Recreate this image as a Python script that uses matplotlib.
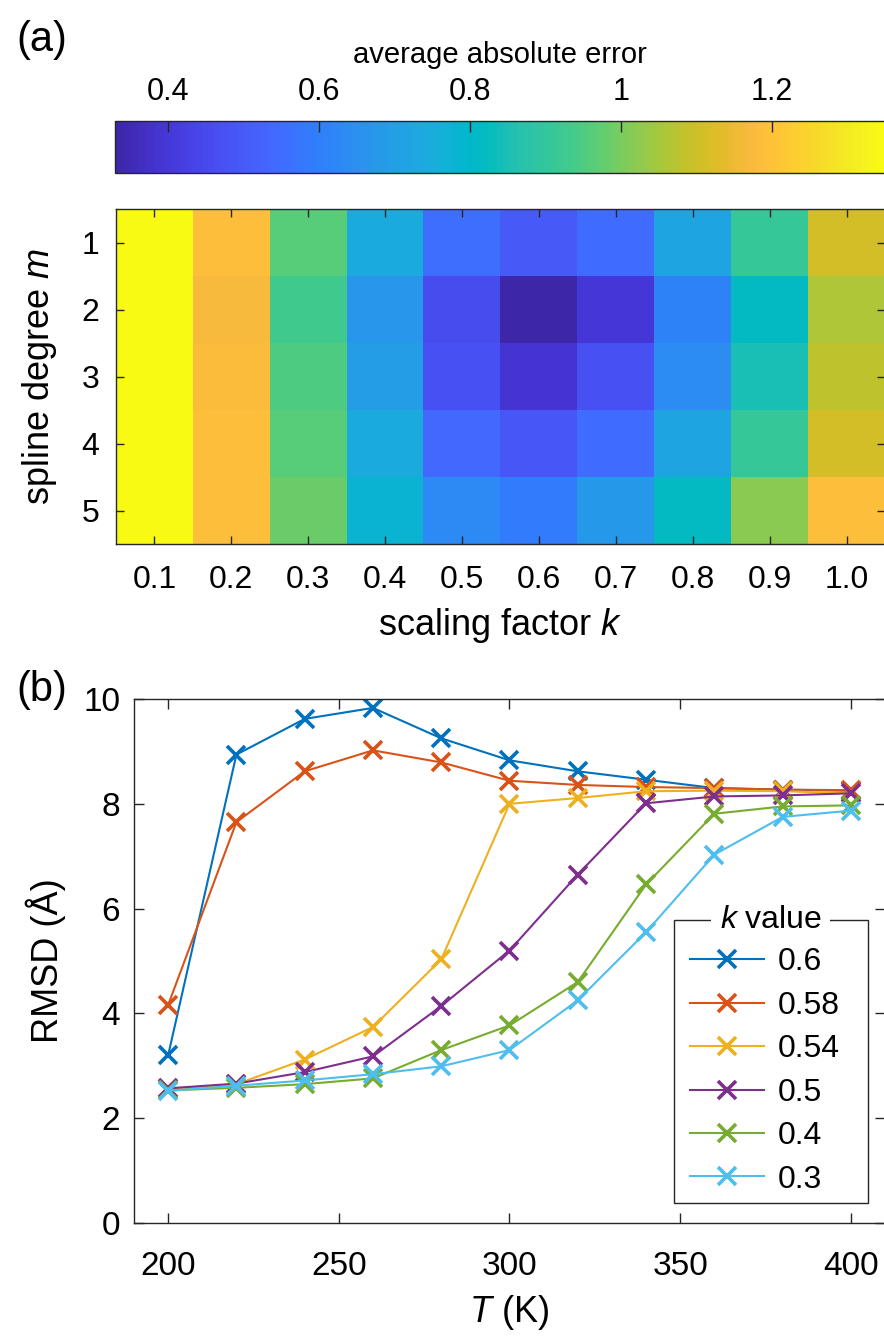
import numpy as np
import matplotlib
matplotlib.use('Agg')
import matplotlib.pyplot as plt
from matplotlib.colors import LinearSegmentedColormap
from matplotlib.patches import Rectangle

plt.rcParams['font.family'] = ['Liberation Sans', 'DejaVu Sans']
plt.rcParams['mathtext.fontset'] = 'custom'
plt.rcParams['mathtext.it'] = 'Liberation Sans:italic'
plt.rcParams['mathtext.rm'] = 'Liberation Sans'

# ---------------- data ----------------
k_labels = ['0.1', '0.2', '0.3', '0.4', '0.5', '0.6', '0.7', '0.8', '0.9', '1.0']
m_labels = ['1', '2', '3', '4', '5']
err_m1 = [1.35, 1.19, 0.96, 0.74, 0.555, 0.50, 0.55, 0.72, 0.91, 1.11]
err_m2 = [1.35, 1.17, 0.93, 0.67, 0.46, 0.33, 0.40, 0.61, 0.82, 1.06]
err_m3 = [1.35, 1.18, 0.95, 0.69, 0.47, 0.39, 0.47, 0.64, 0.85, 1.08]
err_m4 = [1.35, 1.19, 0.96, 0.74, 0.54, 0.49, 0.55, 0.72, 0.91, 1.11]
err_m5 = [1.35, 1.19, 0.985, 0.78, 0.63, 0.59, 0.68, 0.82, 1.02, 1.19]
cbar_ticks = [0.4, 0.6, 0.8, 1.0, 1.2]
cbar_ticklabels = ['0.4', '0.6', '0.8', '1', '1.2']

temperature = [200, 220, 240, 260, 280, 300, 320, 340, 360, 380, 400]
k_values = ['0.6', '0.58', '0.54', '0.5', '0.4', '0.3']
rmsd_k060 = [3.20, 8.94, 9.62, 9.83, 9.25, 8.83, 8.62, 8.46, 8.30, 8.27, 8.25]
rmsd_k058 = [4.16, 7.65, 8.62, 9.02, 8.79, 8.44, 8.36, 8.32, 8.30, 8.27, 8.26]
rmsd_k054 = [2.55, 2.65, 3.12, 3.74, 5.03, 8.00, 8.11, 8.24, 8.25, 8.24, 8.20]
rmsd_k050 = [2.57, 2.66, 2.88, 3.18, 4.14, 5.20, 6.65, 8.01, 8.14, 8.16, 8.20]
rmsd_k040 = [2.53, 2.58, 2.65, 2.76, 3.30, 3.77, 4.60, 6.46, 7.81, 7.95, 7.97]
rmsd_k030 = [2.52, 2.62, 2.72, 2.84, 2.99, 3.30, 4.25, 5.55, 7.03, 7.75, 7.87]
line_colors = ['#0072BD', '#D95319', '#EDB120', '#7E2F8E', '#77AC30', '#4DBEEE']

# ---------------- parula-like colormap ----------------
parula_pts = [
    [0.2422, 0.1504, 0.6603], [0.2504, 0.1650, 0.7076], [0.2578, 0.1818, 0.7511],
    [0.2647, 0.1978, 0.7952], [0.2706, 0.2147, 0.8364], [0.2751, 0.2342, 0.8710],
    [0.2783, 0.2559, 0.8991], [0.2803, 0.2782, 0.9221], [0.2813, 0.3006, 0.9414],
    [0.2810, 0.3228, 0.9579], [0.2795, 0.3447, 0.9717], [0.2760, 0.3667, 0.9829],
    [0.2699, 0.3892, 0.9906], [0.2602, 0.4123, 0.9952], [0.2440, 0.4358, 0.9988],
    [0.2206, 0.4603, 0.9973], [0.1963, 0.4847, 0.9892], [0.1834, 0.5074, 0.9798],
    [0.1786, 0.5289, 0.9682], [0.1764, 0.5499, 0.9520], [0.1687, 0.5703, 0.9359],
    [0.1540, 0.5902, 0.9218], [0.1460, 0.6091, 0.9079], [0.1380, 0.6276, 0.8973],
    [0.1248, 0.6459, 0.8883], [0.1113, 0.6635, 0.8763], [0.0952, 0.6798, 0.8598],
    [0.0689, 0.6948, 0.8394], [0.0297, 0.7082, 0.8163], [0.0036, 0.7203, 0.7917],
    [0.0067, 0.7312, 0.7660], [0.0433, 0.7411, 0.7394], [0.0964, 0.7500, 0.7120],
    [0.1408, 0.7584, 0.6842], [0.1717, 0.7670, 0.6554], [0.1938, 0.7758, 0.6251],
    [0.2161, 0.7843, 0.5923], [0.2470, 0.7918, 0.5567], [0.2906, 0.7973, 0.5188],
    [0.3406, 0.8008, 0.4789], [0.3909, 0.8029, 0.4354], [0.4456, 0.8024, 0.3909],
    [0.5044, 0.7993, 0.3480], [0.5616, 0.7942, 0.3045], [0.6174, 0.7876, 0.2612],
    [0.6720, 0.7793, 0.2227], [0.7242, 0.7698, 0.1910], [0.7738, 0.7598, 0.1646],
    [0.8203, 0.7498, 0.1535], [0.8634, 0.7406, 0.1596], [0.9035, 0.7330, 0.1774],
    [0.9393, 0.7288, 0.2100], [0.9728, 0.7298, 0.2394], [0.9956, 0.7434, 0.2371],
    [0.9970, 0.7659, 0.2199], [0.9952, 0.7893, 0.2028], [0.9892, 0.8136, 0.1885],
    [0.9786, 0.8386, 0.1766], [0.9676, 0.8639, 0.1643], [0.9610, 0.8890, 0.1537],
    [0.9597, 0.9135, 0.1423], [0.9628, 0.9373, 0.1265], [0.9691, 0.9606, 0.1064],
    [0.9769, 0.9839, 0.0805]]
parula = LinearSegmentedColormap.from_list('parula', parula_pts, N=256)

VMIN, VMAX = 0.33, 1.35
AX_COL = '#262626'

W, H = 884, 1339
fig = plt.figure(figsize=(W / 100, H / 100), dpi=100)


def frac(x0, y0, x1, y1):
    return [x0 / W, 1 - y1 / H, (x1 - x0) / W, (y1 - y0) / H]


# ---------------- (a) heatmap ----------------
err = np.array([err_m1, err_m2, err_m3, err_m4, err_m5])
ax1 = fig.add_axes(frac(116, 209, 885, 544))
im = ax1.imshow(err, cmap=parula, vmin=VMIN, vmax=VMAX, aspect='auto',
                interpolation='nearest')
ax1.set_xticks(np.arange(len(k_labels)))
ax1.set_xticklabels(k_labels)
ax1.set_yticks(np.arange(len(m_labels)))
ax1.set_yticklabels(m_labels)
ax1.tick_params(direction='in', top=True, right=True, length=6, width=1,
                color=AX_COL, labelsize=23)
ax1.tick_params(axis='x', pad=15)
ax1.tick_params(axis='y', pad=12)
for s in ax1.spines.values():
    s.set_color(AX_COL)
    s.set_linewidth(1.0)
ax1.set_xlabel('scaling factor $k$', fontsize=26, labelpad=8)
ax1.set_ylabel('spline degree $m$', fontsize=26, labelpad=16)

# colorbar
cax = fig.add_axes(frac(115, 121, 885, 173))
cb = fig.colorbar(im, cax=cax, orientation='horizontal', ticks=cbar_ticks)
cb.set_ticklabels(cbar_ticklabels)
cax.xaxis.set_ticks_position('top')
cax.xaxis.set_label_position('top')
cax.tick_params(direction='in', length=8, width=1, color=AX_COL, labelsize=22, pad=10)
cb.outline.set_edgecolor(AX_COL)
cb.outline.set_linewidth(1.0)
cb.set_label('average absolute error', fontsize=21, labelpad=10)

fig.text(42 / W, 1 - 40 / H, '(a)', fontsize=30, ha='center', va='center')

# ---------------- (b) RMSD vs T ----------------
rmsd_all = [rmsd_k060, rmsd_k058, rmsd_k054, rmsd_k050, rmsd_k040, rmsd_k030]
ax2 = fig.add_axes(frac(134, 699, 885, 1223))
for lab, ys, c in zip(k_values, rmsd_all, line_colors):
    ax2.plot(temperature, ys, color=c, lw=1.5, marker='x', ms=13, mew=2.6,
             label=lab)
ax2.set_xlim(190, 410)
ax2.set_ylim(0, 10)
ax2.set_xticks([200, 250, 300, 350, 400])
ax2.set_yticks([0, 2, 4, 6, 8, 10])
ax2.tick_params(direction='in', top=True, right=True, length=7, width=1,
                color=AX_COL, labelsize=24)
ax2.tick_params(axis='x', pad=20)
ax2.tick_params(axis='y', pad=10)
for s in ax2.spines.values():
    s.set_color(AX_COL)
    s.set_linewidth(1.0)
ax2.set_xlabel('$T$ (K)', fontsize=26, labelpad=8)
ax2.set_ylabel('RMSD (Å)', fontsize=26, labelpad=12)

# legend with box and title on the border
lx0, lx1 = (673.5 - 134) / 751, (867.5 - 134) / 751
ly0, ly1 = (1223 - 1203) / 524, (1223 - 920) / 524
rect = Rectangle((lx0, ly0), lx1 - lx0, ly1 - ly0, transform=ax2.transAxes,
                 facecolor='white', edgecolor=AX_COL, lw=1.0, zorder=5)
ax2.add_patch(rect)
leg = ax2.legend(loc='upper left', bbox_to_anchor=(lx0 + 0.005, ly1 - 0.028),
                 frameon=False, fontsize=23, handlelength=2.3, handletextpad=0.45,
                 labelspacing=0.42, borderaxespad=0.0)
leg.set_zorder(6)
ax2.text((lx0 + lx1) / 2, ly1, '$k$ value', transform=ax2.transAxes,
         fontsize=23, ha='center', va='center', zorder=7,
         bbox=dict(facecolor='white', edgecolor='none', pad=6))

fig.text(42 / W, 1 - 690 / H, '(b)', fontsize=30, ha='center', va='center')

fig.savefig('out.png', dpi=100)
